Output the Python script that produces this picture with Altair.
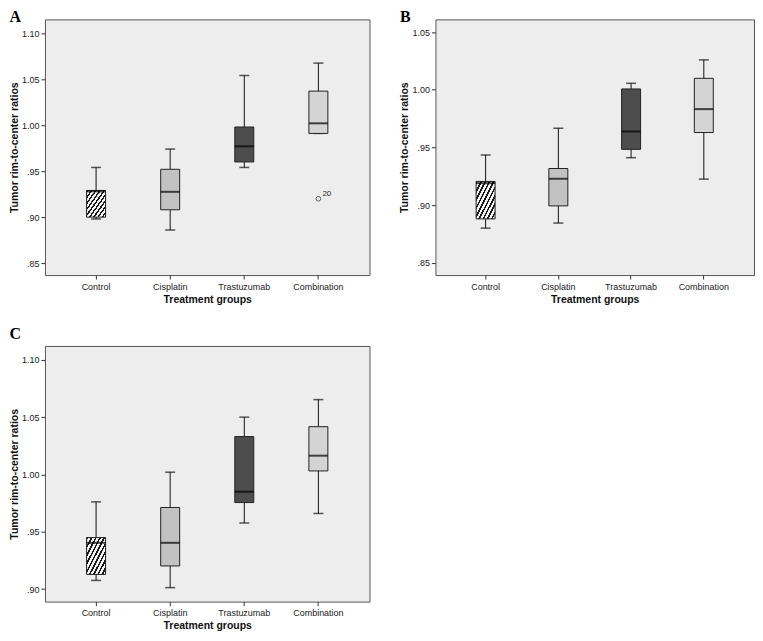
import altair as alt
import pandas as pd

categories = ["Control", "Cisplatin", "Trastuzumab", "Combination"]

# Panel A
a_lower = [0.898, 0.886, 0.954, 0.991]
a_q1 = [0.900, 0.908, 0.960, 0.991]
a_median = [0.928, 0.9275, 0.977, 1.002]
a_q3 = [0.929, 0.952, 0.998, 1.037]
a_upper = [0.954, 0.974, 1.054, 1.0675]
a_outlier_group = ["Combination"]
a_outlier_value = [0.920]
a_outlier_label = ["20"]
a_ticks = [0.85, 0.90, 0.95, 1.00, 1.05, 1.10]
a_domain = [0.837, 1.115]

# Panel B
b_lower = [0.880, 0.8844, 0.9411, 0.9225]
b_q1 = [0.888, 0.8993, 0.9483, 0.9629]
b_median = [0.919, 0.9228, 0.9638, 0.9832]
b_q3 = [0.9205, 0.9317, 1.0007, 1.0099]
b_upper = [0.9434, 0.9666, 1.0056, 1.0259]
b_ticks = [0.85, 0.90, 0.95, 1.00, 1.05]
b_domain = [0.8393, 1.061]

# Panel C
c_lower = [0.9075, 0.9012, 0.9576, 0.9659]
c_q1 = [0.9127, 0.9201, 0.9754, 1.003]
c_median = [0.9403, 0.9403, 0.9849, 1.0163]
c_q3 = [0.9449, 0.9711, 1.033, 1.0416]
c_upper = [0.976, 1.0019, 1.0499, 1.0652]
c_ticks = [0.90, 0.95, 1.00, 1.05, 1.10]
c_domain = [0.889, 1.112]

other_groups = ["Cisplatin", "Trastuzumab", "Combination"]
other_fills = ["#c2c2c2", "#4d4d4d", "#d4d4d4"]

# diagonal hatch for the Control box
hatch_stops = []
n_stripes = 9
for i in range(n_stripes):
    s = i / n_stripes
    m = s + 0.42 / n_stripes
    e = (i + 1) / n_stripes
    hatch_stops += [
        {"offset": s, "color": "#1a1a1a"},
        {"offset": m, "color": "#1a1a1a"},
        {"offset": m, "color": "#f4f4f4"},
        {"offset": e, "color": "#f4f4f4"},
    ]
hatch = {"gradient": "linear", "x1": 0, "y1": 0, "x2": 1, "y2": 1, "stops": hatch_stops}

LABEL_EXPR = "datum.value < 1 ? substring(format(datum.value, '.2f'), 1) : format(datum.value, '.2f')"


def panel(letter, lower, q1, med, q3, upper, domain, ticks, width, height,
          out_group=None, out_value=None, out_label=None, title_offset=-6):
    df = pd.DataFrame({"group": categories, "lower": lower, "q1": q1,
                       "median": med, "q3": q3, "upper": upper})
    xenc = alt.X("group:N", sort=categories, title="Treatment groups",
                 scale=alt.Scale(domain=categories, paddingInner=0, paddingOuter=0.19),
                 axis=alt.Axis(labelAngle=0, domain=False, ticks=True, tickSize=4,
                               labelPadding=3, titlePadding=3, grid=False))
    yscale = alt.Scale(domain=domain, nice=False, zero=False)
    yaxis = alt.Axis(values=ticks, labelExpr=LABEL_EXPR, title="Tumor rim-to-center ratios",
                     domain=False, grid=False, tickSize=4, labelPadding=2, titlePadding=2)

    def Y(field):
        return alt.Y(field, type="quantitative", scale=yscale, axis=yaxis)

    base = alt.Chart(df)
    w_low = base.mark_rule(color="#111111", strokeWidth=1).encode(x=xenc, y=Y("lower"), y2="q1")
    w_up = base.mark_rule(color="#111111", strokeWidth=1).encode(x=xenc, y=Y("q3"), y2="upper")
    cap_low = base.mark_tick(size=10, thickness=1.5, color="#111111").encode(x=xenc, y=Y("lower"))
    cap_up = base.mark_tick(size=10, thickness=1.5, color="#111111").encode(x=xenc, y=Y("upper"))
    box_ctrl = base.transform_filter(alt.datum.group == "Control").mark_bar(
        size=19, fill=hatch, stroke="#222222", strokeWidth=1
    ).encode(x=xenc, y=Y("q1"), y2="q3")
    box_other = base.transform_filter(alt.datum.group != "Control").mark_bar(
        size=19, stroke="#222222", strokeWidth=1
    ).encode(x=xenc, y=Y("q1"), y2="q3",
             fill=alt.Fill("group:N", scale=alt.Scale(domain=other_groups, range=other_fills),
                           legend=None))
    med_mark = base.mark_tick(size=19, thickness=2, color="#000000").encode(x=xenc, y=Y("median"))

    layers = [w_low, w_up, cap_low, cap_up, box_ctrl, box_other, med_mark]
    if out_group:
        odf = pd.DataFrame({"group": out_group, "value": out_value, "label": out_label})
        ob = alt.Chart(odf)
        pt = ob.mark_point(shape="circle", filled=False, size=22, color="#222222",
                           strokeWidth=1).encode(x=xenc, y=Y("value"))
        tx = ob.mark_text(align="left", baseline="bottom", dx=4, dy=-1, fontSize=8,
                          font="Liberation Sans", color="#222222").encode(
            x=xenc, y=Y("value"), text="label:N")
        layers += [pt, tx]

    return alt.layer(*layers).properties(
        width=width, height=height,
        title=alt.Title(letter, anchor="start", frame="bounds", font="Liberation Serif",
                        fontSize=16, fontWeight="bold", color="#000000", offset=title_offset),
    )


pA = panel("A", a_lower, a_q1, a_median, a_q3, a_upper, a_domain, a_ticks, 325, 256,
           a_outlier_group, a_outlier_value, a_outlier_label)
pB = panel("B", b_lower, b_q1, b_median, b_q3, b_upper, b_domain, b_ticks, 319, 256)
pC = panel("C", c_lower, c_q1, c_median, c_q3, c_upper, c_domain, c_ticks, 325, 256,
           title_offset=4)

top = alt.hconcat(pA, pB, spacing=28)
chart = alt.vconcat(top, pC, spacing=20).properties(
    padding={"left": 0, "top": 0, "right": 0, "bottom": 0}
).configure_view(
    fill="#EDEDED", stroke="#555555", strokeWidth=1
).configure_axis(
    labelFont="Liberation Sans", labelFontSize=9, labelColor="#222222",
    titleFont="Liberation Sans", titleFontSize=10.5, titleFontWeight="bold",
    titleColor="#111111", tickColor="#333333"
)

chart.save("out.html", embed_options={"renderer": "svg", "actions": False})
